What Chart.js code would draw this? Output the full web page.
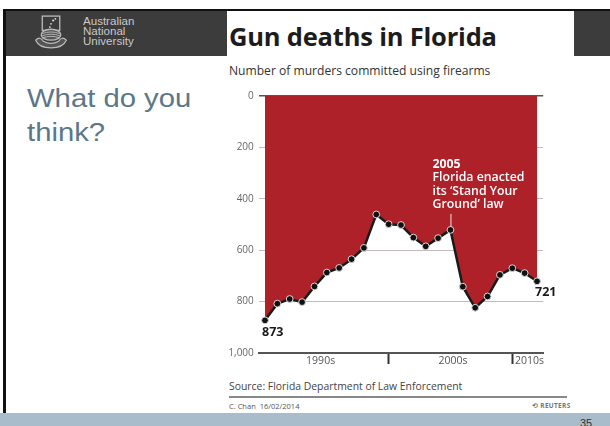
<!DOCTYPE html>
<html>
<head>
<meta charset="utf-8">
<script src="https://cdn.jsdelivr.net/npm/chart.js@4.4.1/dist/chart.umd.min.js"></script>
<style>
  html,body{margin:0;padding:0;}
  body{width:610px;height:426px;background:#fff;position:relative;overflow:hidden;font-family:"Open Sans",sans-serif;}
  .abs{position:absolute;}
  #topline{left:3px;top:9px;width:607px;height:2px;background:#111;}
  #leftline{left:3px;top:9px;width:3px;height:404px;background:#111;}
  #header{left:6px;top:11px;width:604px;height:45px;background:#3c3c3c;}
  #titlebox{left:227px;top:11px;width:347px;height:45px;background:#fff;}
  #title{left:229px;top:19px;font:bold 25.5px "Open Sans",sans-serif;color:#1c1c1c;white-space:nowrap;letter-spacing:-0.2px;}
  #anu{left:83px;top:16px;font:11px/10px "Liberation Sans",Arial,sans-serif;color:#c8c8c8;transform:scaleX(1.05);transform-origin:left;}
  #crest{left:33px;top:15px;width:36px;height:35px;}
  #think{left:27px;top:81px;font:25px/34px "Liberation Sans",Arial,sans-serif;color:#5b7888;transform:scaleX(1.17);transform-origin:left top;white-space:nowrap;}
  #sub{left:229px;top:62px;font:12.1px "Open Sans",sans-serif;color:#333;white-space:nowrap;}
  #source{left:229px;top:379px;font:10.4px "Open Sans",sans-serif;color:#444;white-space:nowrap;}
  #fline{left:229px;top:396px;width:338px;height:1.5px;background:#888;}
  #credit{left:229px;top:401px;font:7.5px "Open Sans",sans-serif;color:#555;white-space:nowrap;}
  #reuters{left:532px;top:401px;font:bold 6.5px "Open Sans",sans-serif;color:#777;letter-spacing:0.3px;white-space:nowrap;}
  #band{left:0;top:413px;width:610px;height:13px;background:#a8bccb;}
  #pnum{left:580px;top:417px;font:11px "Liberation Sans",Arial,sans-serif;color:#333;}
  #chartwrap{left:200px;top:85px;width:360px;height:290px;}
</style>
</head>
<body>
<div id="topline" class="abs"></div>
<div id="header" class="abs"></div>
<div id="leftline" class="abs"></div>
<div id="titlebox" class="abs"></div>
<svg id="crest" class="abs" viewBox="0 0 30 32">
  <rect x="7" y="1" width="16" height="13" fill="none" stroke="#bbb" stroke-width="1.2"/>
  <circle cx="17" cy="5" r="1" fill="#ddd"/><circle cx="15" cy="8" r="0.8" fill="#ddd"/><circle cx="19" cy="3.5" r="0.8" fill="#ddd"/><circle cx="14" cy="11" r="0.8" fill="#ddd"/>
  <ellipse cx="15" cy="18" rx="9" ry="5" fill="#555" stroke="#bbb" stroke-width="1.2"/>
  <path d="M7 17 Q15 14 23 17 M7 19 Q15 16 23 19 M7 21 Q15 18 23 21" stroke="#bbb" fill="none" stroke-width="0.8"/>
  <path d="M1 23 Q5 19 8 24 Q15 28 22 24 Q25 19 29 23 Q26 30 15 30 Q4 30 1 23Z" fill="#555" stroke="#bbb" stroke-width="1.1"/>
</svg>
<div id="anu" class="abs">Australian<br>National<br>University</div>
<div id="title" class="abs">Gun deaths in Florida</div>
<div id="think" class="abs">What do you<br>think?</div>
<div id="sub" class="abs">Number of murders committed using firearms</div>
<div id="chartwrap" class="abs"><canvas id="c" width="360" height="290"></canvas></div>
<div id="source" class="abs">Source: Florida Department of Law Enforcement</div>
<div id="fline" class="abs"></div>
<div id="credit" class="abs">C. Chan&nbsp; 16/02/2014</div>
<div id="reuters" class="abs">&#10226; REUTERS</div>
<div id="band" class="abs"></div>
<div id="pnum" class="abs">35</div>
<script>
// ---- data ----
const years = [1990,1991,1992,1993,1994,1995,1996,1997,1998,1999,2000,2001,2002,2003,2004,2005,2006,2007,2008,2009,2010,2011,2012];
const murders = [873,808,790,802,741,687,669,635,591,461,499,502,551,585,553,521,742,824,780,696,670,689,721];
const yTicks = [0,200,400,600,800,1000];
const decadeTicks = [2000,2010];
const decadeLabels = ['1990s','2000s','2010s'];
const decadeLabelAt = [1994.5,2005.2,2011.4];
const noteYear = 2005;
const noteLines = ['2005','Florida enacted','its \u2018Stand Your','Ground\u2019 law'];

const points = years.map((y,i)=>({x:y,y:murders[i]}));
const FONT = '"Open Sans", sans-serif';

const notes = {
  id:'notes',
  afterDatasetsDraw(chart){
    const ctx = chart.ctx;
    const meta = chart.getDatasetMeta(0);
    const first = meta.data[0], last = meta.data[meta.data.length-1];
    const ni = years.indexOf(noteYear);
    const np = meta.data[ni];
    ctx.save();
    ctx.fillStyle = '#1a1a1a';
    ctx.font = 'bold 12.5px ' + FONT;
    ctx.textBaseline = 'middle';
    ctx.textAlign = 'left';
    ctx.fillText(String(murders[0]), first.x - 3, first.y + 12);
    ctx.fillText(String(murders[murders.length-1]), last.x - 2, last.y + 11);
    // annotation
    ctx.fillStyle = '#fff';
    const lx = np.x - 18;
    const offs = [-65,-52,-38,-25];
    noteLines.forEach((t,i)=>{
      ctx.font = (i===0?'bold ':'600 ') + '12.3px ' + FONT;
      ctx.fillText(t, lx, np.y + offs[i]);
    });
    ctx.strokeStyle = 'rgba(255,255,255,0.85)';
    ctx.lineWidth = 1;
    ctx.beginPath();
    ctx.moveTo(np.x+0.5, np.y - 16);
    ctx.lineTo(np.x+0.5, np.y - 3);
    ctx.stroke();
    ctx.restore();
  }
};

new Chart(document.getElementById('c'), {
  type:'line',
  data:{ datasets:[{
    data: points,
    borderColor:'#1a1a1a',
    borderWidth:2.5,
    backgroundColor:'#ae2129',
    fill:{value:0},
    tension:0,
    pointRadius:3.4,
    pointBackgroundColor:'#111',
    pointBorderColor:'#d8d8d8',
    pointBorderWidth:1
  }]},
  options:{
    responsive:false,
    animation:false,
    layout:{padding:{top:4,right:16.8,left:0,bottom:0}},
    plugins:{legend:{display:false},tooltip:{enabled:false}},
    scales:{
      x:{
        type:'linear', min:1989.5, max:2012.5,
        afterBuildTicks:s=>{ s.ticks = decadeTicks.concat(decadeLabelAt).sort((a,b)=>a-b).map(v=>({value:v})); },
        afterFit:s=>{ s.height = 22; },
        grid:{ drawOnChartArea:false, drawTicks:true, tickLength:11, tickWidth:2,
          tickColor: c => (c.tick && decadeTicks.includes(c.tick.value)) ? '#333' : 'rgba(0,0,0,0)' },
        border:{display:true,color:'#555',width:2},
        ticks:{ autoSkip:false, maxRotation:0, padding:-9, color:'#555',
          font:{size:10.5,family:FONT},
          callback:(v)=>{ const k = decadeLabelAt.indexOf(v); return k>=0 ? decadeLabels[k] : ''; } }
      },
      y:{
        reverse:true, min:0, max:1000, z:1,
        afterBuildTicks:s=>{ s.ticks = yTicks.map(v=>({value:v})); },
        afterFit:s=>{ s.width = 58.8; },
        border:{display:false},
        grid:{ drawTicks:false,
          color: c => !c.tick ? 'rgba(0,0,0,0)' : (c.tick.value===0 ? '#555' : (c.tick.value===1000 ? 'rgba(0,0,0,0)' : 'rgba(40,0,0,0.27)')),
          lineWidth: c => (c.tick && c.tick.value===0) ? 1.5 : 1 },
        ticks:{ padding:5, color:'#666', font:{size:10,family:FONT},
          callback:v=>v.toLocaleString('en-US') }
      }
    }
  },
  plugins:[notes]
});
</script>
</body>
</html>
